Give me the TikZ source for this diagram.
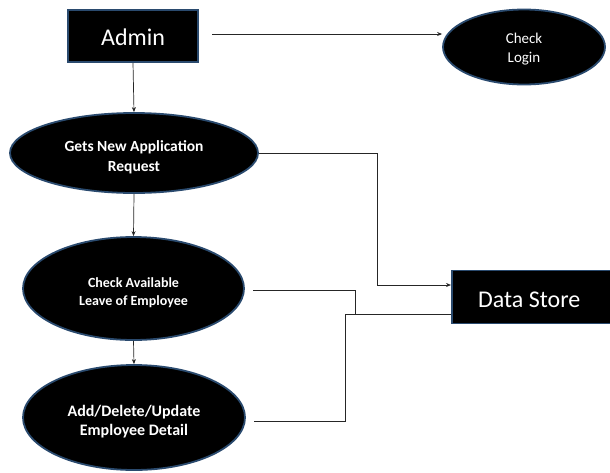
\documentclass[tikz,border=0pt]{standalone}
\usepackage{fontspec}
\setmainfont{Carlito}
\usetikzlibrary{shapes.geometric,arrows.meta}
\definecolor{edgeblue}{HTML}{2A4A6E}
\tikzset{
  procbox/.style={draw=edgeblue, line width=1.8pt, fill=black, text=white, inner sep=0pt},
  procell/.style={ellipse, draw=edgeblue, line width=1.8pt, fill=black, inner sep=0pt},
  elltext/.style={text=white, align=center, inner sep=0pt},
  flow/.style={line width=0.7pt, draw=black!85},
  flowarrow/.style={flow, -{Stealth[length=5pt,width=4pt]}}
}
\begin{document}
\begin{tikzpicture}[x=1pt,y=-1pt]
\useasboundingbox (0,0) rectangle (610,472);
\node[procbox, minimum width=130pt, minimum height=52pt] (admin) at (133,36) {};
\node[elltext, font=\fontsize{24}{28}\selectfont] (adminT) at (133,37.5) {Admin};
\node[procell, minimum width=162pt, minimum height=75pt] (login) at (524,47) {};
\node[elltext, font=\fontsize{15}{19}\selectfont] (loginT) at (524,49) {Check\\Login};
\node[procell, minimum width=248pt, minimum height=80pt] (gets) at (134,153) {};
\node[elltext, font=\bfseries\fontsize{15.5}{20}\selectfont] (getsT) at (134,157) {Gets New Application\\Request};
\node[procell, minimum width=221pt, minimum height=103pt] (avail) at (133.5,288.5) {};
\node[elltext, font=\bfseries\fontsize{14}{18}\selectfont] (availT) at (133.5,293) {Check Available\\Leave of Employee};
\node[procell, minimum width=222pt, minimum height=105pt] (upd) at (134,417.5) {};
\node[elltext, font=\bfseries\fontsize{16}{19}\selectfont] (updT) at (134,421.5) {Add/Delete/Update\\Employee Detail};
\node[procbox, minimum width=170pt, minimum height=53pt, anchor=west] (store) at (451,297) {};
\node[elltext, anchor=west, font=\fontsize{24}{28}\selectfont] (storeT) at (478,300) {Data Store};
\coordinate (a1) at (212,34);
\draw[flowarrow] (a1) -- (login.west |- a1);
\draw[flowarrow] (admin.south) -- (gets.north);
\draw[flowarrow] (gets.south) -- (avail.north);
\draw[flowarrow] (avail.south) -- (upd.north);
\coordinate (g1) at (377,153);
\coordinate (g2) at (377,285);
\draw[flowarrow] (gets.east |- g1) -- (g1) -- (g2) -- (store.west |- g2);
\coordinate (c1) at (253,290);
\coordinate (c2) at (355,290);
\coordinate (c3) at (355,314);
\draw[flow] (c1) -- (c2) -- (c3);
\coordinate (s1) at (451,314);
\coordinate (s2) at (345,314);
\coordinate (s3) at (345,421);
\coordinate (s4) at (254,421);
\draw[flow] (s1) -- (s2) -- (s3) -- (s4);
\end{tikzpicture}
\end{document}
